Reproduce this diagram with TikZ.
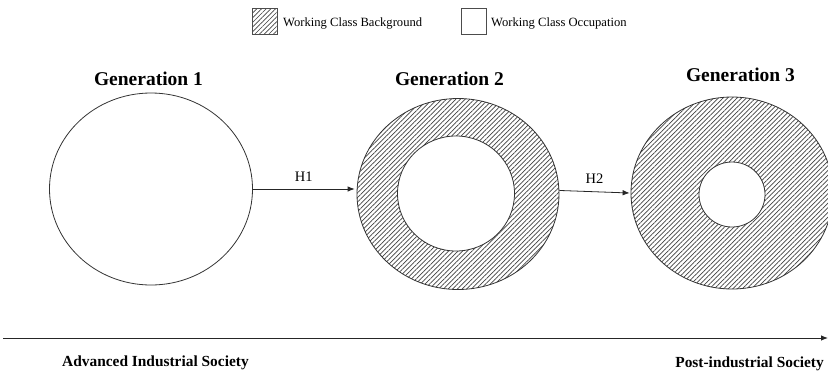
\documentclass[tikz,border=0pt]{standalone}
\usepackage{fontspec}
\setmainfont{Liberation Serif}
\usetikzlibrary{shapes.geometric,patterns.meta,arrows.meta}
\begin{document}
\begin{tikzpicture}[x=1pt,y=-1pt,
  ring/.style={ellipse,draw=black!80,line width=0.8pt,inner sep=0pt},
  hatch/.style={pattern={Lines[angle=45,distance=3.3pt,line width=0.7pt]},pattern color=black!75},
  hole/.style={ellipse,draw=black!80,line width=0.8pt,inner sep=0pt,fill=white},
  gentitle/.style={font=\fontsize{19.5}{22}\selectfont\bfseries,inner sep=0pt},
  legtext/.style={font=\fontsize{12.6}{14}\selectfont,inner sep=0pt,anchor=west},
  legbox/.style={draw=black!70,line width=0.7pt,inner sep=0pt,minimum width=25pt,minimum height=26pt},
  hlabel/.style={font=\fontsize{14.5}{16}\selectfont,inner sep=0pt},
  eralabel/.style={font=\fontsize{15.4}{17}\selectfont\bfseries,inner sep=0pt},
  conn/.style={draw=black!85,line width=0.8pt,-{Latex[length=7pt,width=5.5pt]}}
]
\useasboundingbox (0,0) rectangle (828,373);
\begin{scope}
\clip (0,0) rectangle (828,373);
% legend
\node[legbox,hatch] (lb1) at (264.5,21.5) {};
\node[legtext] (lt1) at (283,23) {Working Class Background};
\node[legbox] (lb2) at (474,21.5) {};
\node[legtext] (lt2) at (491,23) {Working Class Occupation};
% titles
\node[gentitle] (t1) at (148.5,79) {Generation 1};
\node[gentitle] (t2) at (449.5,79) {Generation 2};
\node[gentitle] (t3) at (740.5,75) {Generation 3};
% circles
\node[ring,minimum width=203pt,minimum height=192pt] (g1) at (151,189) {};
\node[ring,hatch,minimum width=202pt,minimum height=191pt] (g2) at (458,194) {};
\node[hole,minimum width=117pt,minimum height=115pt] (g2in) at (456,193.5) {};
\node[ring,hatch,minimum width=202pt,minimum height=192pt] (g3) at (732,193) {};
\node[hole,minimum width=66pt,minimum height=65pt] (g3in) at (732,194.5) {};
% arrows
\draw[conn] (g1.east) -- node[hlabel,above=7pt] (h1) {H1} ([xshift=-2pt]g2.west |- g1.east);
\draw[conn] (g2.2) -- node[hlabel,above=8pt] (h2) {H2} ([xshift=-1pt]g3.west);
% axis
\coordinate (a0) at (3,338);
\coordinate (a1) at (828,338);
\draw[draw=black!85,line width=0.9pt,-{Latex[length=7pt,width=5.5pt]}] (a0) -- (a1);
\node[eralabel,anchor=west] (e1) at (62,363) {Advanced Industrial Society};
\node[eralabel,anchor=east] (e2) at (824,364) {Post-industrial Society};
\end{scope}
\end{tikzpicture}
\end{document}
